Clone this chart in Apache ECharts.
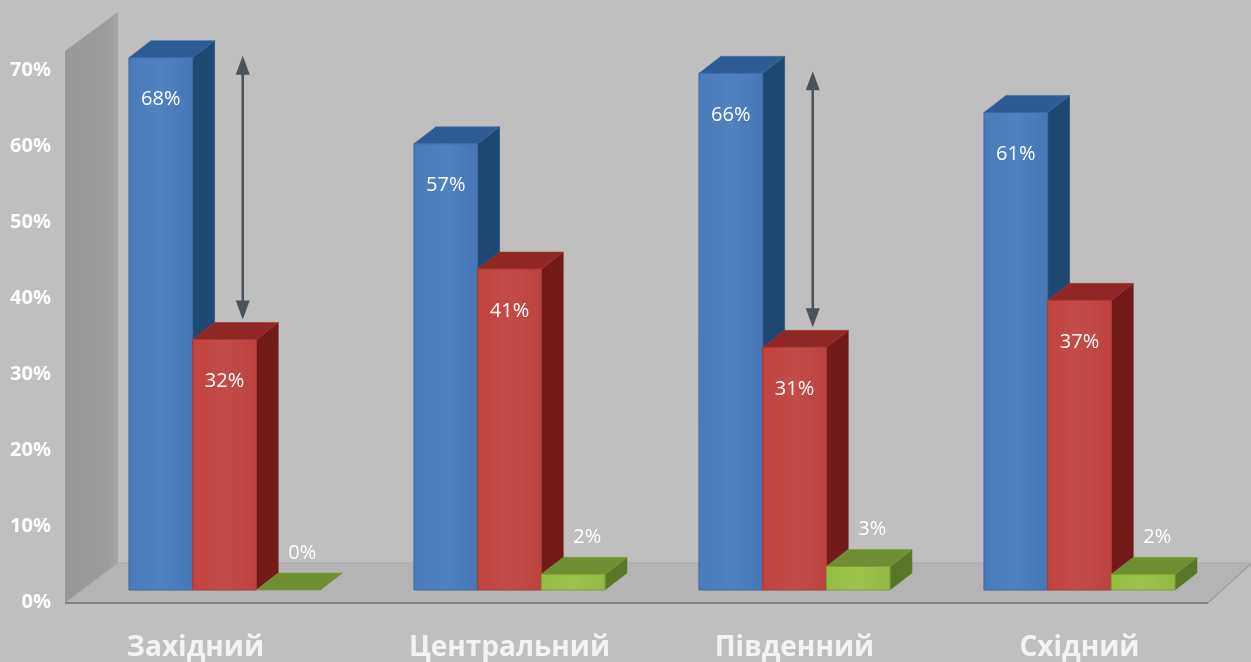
<!DOCTYPE html>
<html>
<head>
<meta charset="utf-8">
<script src="https://cdn.jsdelivr.net/npm/echarts@6/dist/echarts.min.js"></script>
<style>
html,body{margin:0;padding:0;background:#bfbfbf;}
#chart{width:1251px;height:662px;}
</style>
</head>
<body>
<div id="chart"></div>
<script>
// ---- data ----
const categories = ['Західний', 'Центральний', 'Південний', 'Східний'];
const blueValues = [68, 57, 66, 61];
const redValues = [32, 41, 31, 37];
const greenValues = [0, 2, 3, 2];
const yMin = 0, yMax = 70, yStep = 10;
const arrowCategories = ['Західний', 'Південний'];

// ---- styles ----
const palettes = [
  { front: ['#4a7aba', '#4f82c2', '#4676b4'], stroke: '#3d6aa3', top: '#2d5b93', side: '#1d4872', label: 'inside' },
  { front: ['#c0433f', '#c44c48', '#bd423e'], stroke: '#a83a36', top: '#8f2724', side: '#721b19', label: 'inside' },
  { front: ['#95bd45', '#9cc24c', '#93b944'], stroke: '#7f9f3a', top: '#6f8e33', side: '#5a7629', label: 'above' }
];

function geom(api, ci) {
  const band = api.size([1, 0])[0];
  const cx = api.coord([ci, 0])[0];
  const w = band * 0.2235;
  return { band, cx, w, dx: band * 0.077, dy: -17 };
}

function barRender(si) {
  const pal = palettes[si];
  return function (params, api) {
    const ci = api.value(0), v = api.value(1);
    const g = geom(api, ci);
    const y0 = api.coord([ci, 0])[1];
    const yTop = api.coord([ci, v])[1];
    const x = g.cx - 1.5 * g.w + si * g.w;
    const w = g.w, dx = g.dx, dy = g.dy;
    const children = [];
    children.push({ type: 'polygon', shape: { points: [[x + w, yTop], [x + w + dx, yTop + dy], [x + w + dx, y0 + dy], [x + w, y0]] },
      style: { fill: pal.side, stroke: pal.side, lineWidth: 0.5 } });
    children.push({ type: 'polygon', shape: { points: [[x, yTop], [x + w, yTop], [x + w + dx, yTop + dy], [x + dx, yTop + dy]] },
      style: { fill: pal.top, stroke: pal.stroke, lineWidth: 0.6 } });
    if (y0 - yTop > 0.5) {
      children.push({ type: 'rect', shape: { x: x, y: yTop, width: w, height: y0 - yTop },
        style: { fill: new echarts.graphic.LinearGradient(0, 0, 1, 0, [
          { offset: 0, color: pal.front[0] }, { offset: 0.5, color: pal.front[1] }, { offset: 1, color: pal.front[2] }]),
          stroke: pal.stroke, lineWidth: 1 } });
    }
    if (pal.label === 'inside') {
      children.push({ type: 'text', style: { text: v + '%', x: x + w / 2, y: yTop + 42, align: 'center', verticalAlign: 'middle',
        fill: '#ffffff', font: '20px "Open Sans", sans-serif' } });
    } else {
      children.push({ type: 'text', style: { text: v + '%', x: x + w / 2 + 14, y: yTop - 37, align: 'center', verticalAlign: 'middle',
        fill: '#ffffff', font: '20px "Open Sans", sans-serif' } });
    }
    return { type: 'group', children: children };
  };
}

function sceneRender(params, api) {
  const cs = params.coordSys;
  const zeroY = api.coord([0, 0])[1];
  const fl = cs.x - 17, fr = cs.x + cs.width - 14, bl = cs.x + 36, br = cs.x + cs.width + 30;
  const fy = zeroY + 13, by = zeroY - 27;
  return { type: 'group', children: [
    { type: 'polygon', shape: { points: [[fl, fy], [fl, cs.y + 9], [bl, cs.y - 30], [bl, by]] },
      style: { fill: new echarts.graphic.LinearGradient(0, 0, 1, 0, [{ offset: 0, color: '#989898' }, { offset: 0.8, color: '#9c9c9c' }, { offset: 1, color: '#a6a6a6' }]) } },
    { type: 'polygon', shape: { points: [[fl, fy], [fr, fy], [br, by], [bl, by]] },
      style: { fill: '#b4b4b4', stroke: '#a9a9a9', lineWidth: 1 } },
    { type: 'line', shape: { x1: fl, y1: fy, x2: fr, y2: fy }, style: { stroke: '#8a7c7a', lineWidth: 2 } },
    { type: 'line', shape: { x1: fr, y1: fy, x2: br, y2: by }, style: { stroke: '#9a9292', lineWidth: 1 } }
  ] };
}

function arrowRender(params, api) {
  const ci = api.value(0);
  const g = geom(api, ci);
  const ax = g.cx + g.band * 0.064;
  const yT = api.coord([ci, api.value(1)])[1] - 2;
  const yB = api.coord([ci, api.value(2)])[1] + g.dy - 3;
  const hl = 19, hw = 7, col = '#4b5259';
  return { type: 'group', children: [
    { type: 'line', shape: { x1: ax, y1: yT + hl - 2, x2: ax, y2: yB - hl + 2 }, style: { stroke: col, lineWidth: 2.5 } },
    { type: 'polygon', shape: { points: [[ax, yT], [ax + hw, yT + hl], [ax - hw, yT + hl]] }, style: { fill: col } },
    { type: 'polygon', shape: { points: [[ax, yB], [ax + hw, yB - hl], [ax - hw, yB - hl]] }, style: { fill: col } }
  ] };
}

const chart = echarts.init(document.getElementById('chart'), null, { renderer: 'canvas' });
const option = {
  backgroundColor: '#bfbfbf',
  animation: false,
  grid: [
    { left: 82, right: 29, top: 42, bottom: 72, containLabel: false, outerBoundsMode: 'none' },
    { left: 60, right: 29, top: 70, bottom: 60, containLabel: false, outerBoundsMode: 'none' }
  ],
  xAxis: [
    { type: 'category', gridIndex: 0, data: categories.map((c, i) => i === 0 ? { value: c, textStyle: { padding: [0, 58, 0, 0] } } : c),
      axisLine: { show: false }, axisTick: { show: false }, splitLine: { show: false },
      axisLabel: { margin: 44, color: '#f3f3f3', fontSize: 28, fontWeight: 'bold', fontFamily: '"Open Sans", sans-serif' } },
    { type: 'value', gridIndex: 1, show: false }
  ],
  yAxis: [
    { type: 'value', gridIndex: 0, min: yMin, max: yMax, show: false },
    { type: 'value', gridIndex: 1, min: yMin, max: yMax, interval: yStep,
      axisLine: { show: false }, axisTick: { show: false }, splitLine: { show: false },
      axisLabel: { margin: 9, formatter: '{value}%', color: '#ffffff', fontSize: 20, fontWeight: 'bold', fontFamily: '"Open Sans", sans-serif' } }
  ],
  series: [
    { type: 'custom', name: 'scene', xAxisIndex: 0, yAxisIndex: 0, clip: false, silent: true, renderItem: sceneRender, data: [[0, 0]] },
    { type: 'custom', name: 'blue', xAxisIndex: 0, yAxisIndex: 0, clip: false, renderItem: barRender(0), data: blueValues.map((v, i) => [i, v]) },
    { type: 'custom', name: 'red', xAxisIndex: 0, yAxisIndex: 0, clip: false, renderItem: barRender(1), data: redValues.map((v, i) => [i, v]) },
    { type: 'custom', name: 'green', xAxisIndex: 0, yAxisIndex: 0, clip: false, renderItem: barRender(2), data: greenValues.map((v, i) => [i, v]) },
    { type: 'custom', name: 'arrows', xAxisIndex: 0, yAxisIndex: 0, clip: false, renderItem: arrowRender,
      data: arrowCategories.map(n => { const i = categories.indexOf(n); return [i, blueValues[i], redValues[i]]; }) }
  ]
};
chart.setOption(option);
</script>
</body>
</html>
